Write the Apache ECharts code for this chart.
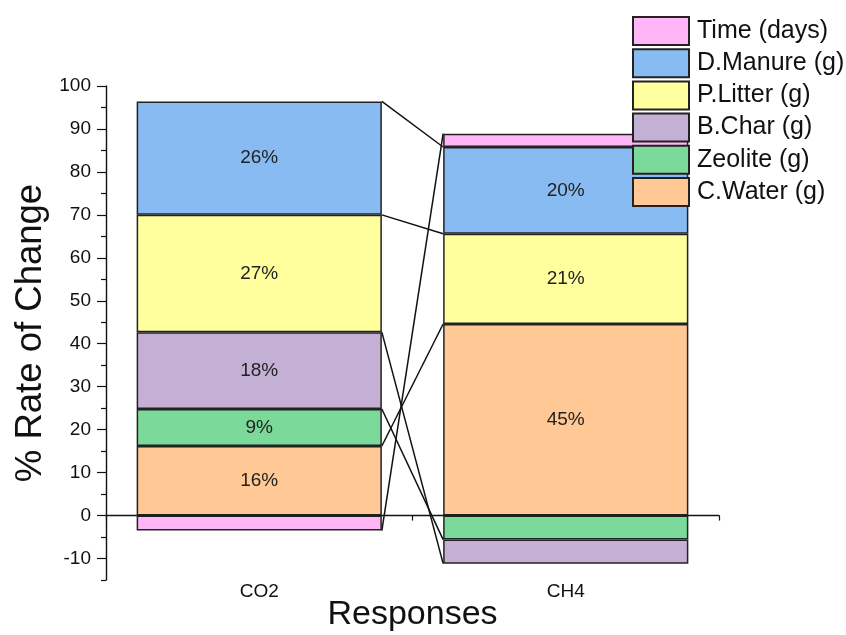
<!DOCTYPE html>
<html>
<head>
<meta charset="utf-8">
<script src="https://cdn.jsdelivr.net/npm/echarts@6/dist/echarts.min.js"></script>
<style>html,body{margin:0;padding:0;background:#fff;overflow:hidden}#c{width:846px;height:635px}</style>
</head>
<body>
<div id="c"></div>
<script>
// ---- data ----
const categories = ['CO2', 'CH4'];
const seriesNames = ['C.Water (g)', 'Zeolite (g)', 'B.Char (g)', 'P.Litter (g)', 'D.Manure (g)', 'Time (days)'];
const cWater  = [16.2, 44.6];
const zeolite = [8.6, -5.6];
const bChar   = [17.9, -5.6];
const pLitter = [27.3, 21.0];
const dManure = [26.4, 20.2];
const timeDays = [-3.5, 3.1];
const legendOrder = ['Time (days)', 'D.Manure (g)', 'P.Litter (g)', 'B.Char (g)', 'Zeolite (g)', 'C.Water (g)'];
const majorTicks = [-10, 0, 10, 20, 30, 40, 50, 60, 70, 80, 90, 100];
const minorTicks = [-15, -5, 5, 15, 25, 35, 45, 55, 65, 75, 85, 95];

// ---- styles ----
const colors = ['#FFC895', '#7BD99A', '#C5B0D5', '#FFFF9E', '#88BBF2', '#FFB5F6'];
const FONT = 'Liberation Sans, Arial, sans-serif';
const values = [cWater, zeolite, bChar, pLitter, dManure, timeDays];

// stacked ends (same-sign stacking) for connector lines
const posAcc = categories.map(() => 0), negAcc = categories.map(() => 0);
const ends = values.map(arr => arr.map((v, j) => {
  if (v >= 0) { posAcc[j] += v; return posAcc[j]; }
  negAcc[j] += v; return negAcc[j];
}));

const barSeries = values.map((arr, i) => ({
  name: seriesNames[i],
  type: 'bar',
  stack: 'total',
  barWidth: '80%',
  data: arr,
  itemStyle: { color: colors[i], borderColor: '#222', borderWidth: 1.5 },
  label: {
    show: true, position: 'inside', color: '#222', fontSize: 19, fontFamily: FONT,
    formatter: p => (p.value >= 5 ? Math.round(p.value) + '%' : '')
  },
  z: 3
}));

const connector = {
  type: 'custom',
  name: 'connectors',
  silent: true,
  xAxisIndex: 0, yAxisIndex: 0,
  encode: { x: 0, y: 1 },
  data: ends.map(e => [0, e[0], e[1]]),
  renderItem: (params, api) => {
    const band = api.size([1, 0])[0];
    const p0 = api.coord([0, api.value(1)]);
    const p1 = api.coord([1, api.value(2)]);
    return {
      type: 'line',
      shape: { x1: p0[0] + band * 0.4, y1: p0[1], x2: p1[0] - band * 0.4, y2: p1[1] },
      style: { stroke: '#111', lineWidth: 1.5 }
    };
  },
  z: 2
};

const dom = document.getElementById('c');
const chart = echarts.init(dom, null, { renderer: 'canvas', width: 846, height: 635 });
chart.setOption({
  animation: false,
  backgroundColor: '#fff',
  textStyle: { fontFamily: FONT },
  grid: { left: 106, right: 127, top: 86, bottom: 55, containLabel: false, outerBoundsMode: 'none' },
  legend: {
    data: legendOrder,
    orient: 'vertical',
    left: 627, top: 11,
    itemWidth: 56, itemHeight: 28, itemGap: 2.2,
    icon: 'rect',
    textStyle: { fontSize: 25, lineHeight: 28, color: '#111', fontFamily: FONT, padding: [0, 0, 0, 3] }
  },
  xAxis: [
    {
      type: 'category', data: categories, position: 'bottom',
      axisLine: { show: false, onZero: false }, axisTick: { show: false },
      axisLabel: { fontSize: 19, color: '#111', margin: 2, fontFamily: FONT },
      name: 'Responses', nameLocation: 'middle', nameGap: 18, nameMoveOverlap: false,
      nameTextStyle: { fontSize: 34, color: '#111', fontFamily: FONT }
    },
    {
      type: 'category', data: categories, position: 'bottom',
      axisLine: { show: true, onZero: true, lineStyle: { color: '#111', width: 1.4 } },
      axisTick: { show: true, length: 5, lineStyle: { color: '#111', width: 1.2 } },
      axisLabel: { show: false }
    }
  ],
  yAxis: [
    {
      type: 'value', min: -15, max: 100, interval: 5,
      axisLine: { show: true, lineStyle: { color: '#111', width: 1.4 } },
      axisTick: { show: true, length: 9, customValues: majorTicks, lineStyle: { color: '#111', width: 1.2 } },
      axisLabel: { fontSize: 19, color: '#111', margin: 15, customValues: majorTicks, fontFamily: FONT },
      splitLine: { show: false },
      name: '% Rate of Change', nameLocation: 'middle', nameGap: 57, nameMoveOverlap: false,
      nameTextStyle: { fontSize: 36.5, color: '#111', fontFamily: FONT }
    },
    {
      type: 'value', min: -15, max: 100, interval: 5, position: 'left',
      axisLine: { show: false },
      axisTick: { show: true, length: 5, customValues: minorTicks, lineStyle: { color: '#111', width: 1.2 } },
      axisLabel: { show: false },
      splitLine: { show: false }
    }
  ],
  series: [connector].concat(barSeries)
});
</script>
</body>
</html>
